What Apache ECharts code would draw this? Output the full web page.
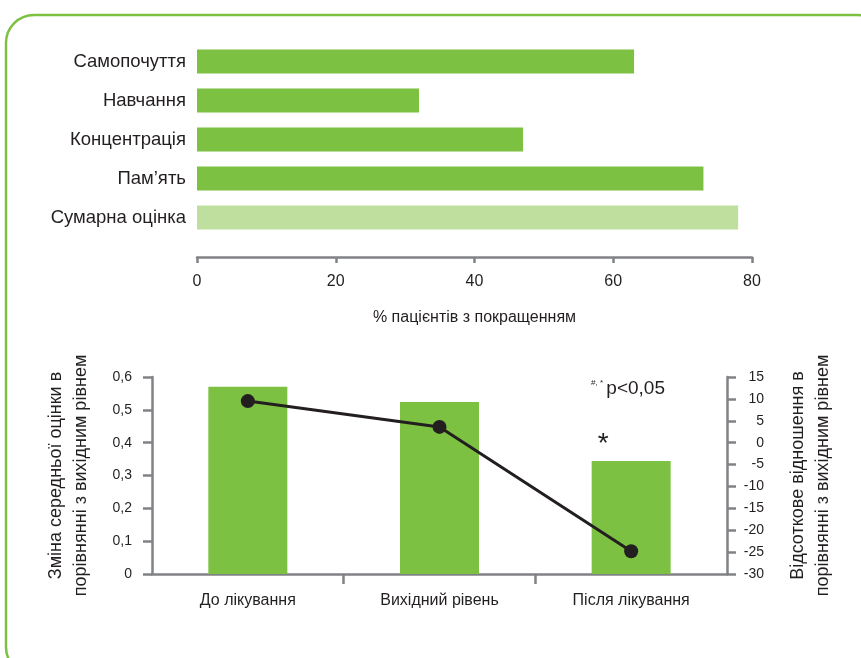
<!DOCTYPE html>
<html><head><meta charset="utf-8">
<script src="https://cdn.jsdelivr.net/npm/echarts@6/dist/echarts.min.js"></script>
<style>html,body{margin:0;padding:0;background:#fff}#c{width:861px;height:658px}</style>
</head><body><div id="c"></div>
<script>
const topCategories = ['Самопочуття', 'Навчання', 'Концентрація', 'Пам’ять', 'Сумарна оцінка'];
const topValues = [63, 32, 47, 73, 78];
const topTicks = [0, 20, 40, 60, 80];
const bottomCategories = ['До лікування', 'Вихідний рівень', 'Після лікування'];
const barValues = [0.57, 0.524, 0.344];
const lineValues = [9.5, 3.6, -24.8];

const GREEN = '#7dc142', LIGHT = '#bedf9d', TXT = '#231f20', AX = '#808285';
const FONT = 'Liberation Sans';

const chart = echarts.init(document.getElementById('c'), null, {renderer: 'canvas'});
chart.setOption({
  animation: false,
  textStyle: {fontFamily: FONT, color: TXT},
  grid: [
    {left: 197, right: 109, top: 42, height: 195},
    {left: 152, right: 134, top: 377, bottom: 84}
  ],
  xAxis: [
    {gridIndex: 0, type: 'value', min: topTicks[0], max: topTicks[topTicks.length - 1], interval: topTicks[1] - topTicks[0], offset: 20,
     axisLine: {show: true, lineStyle: {color: AX, width: 2.5}},
     axisTick: {show: true, length: 6, lineStyle: {color: AX, width: 2.5}},
     axisLabel: {color: TXT, fontSize: 16, margin: 17, fontFamily: FONT},
     splitLine: {show: false},
     name: '% пацієнтів з покращенням', nameLocation: 'middle', nameGap: 53,
     nameTextStyle: {color: TXT, fontSize: 16, fontFamily: FONT}},
    {gridIndex: 1, type: 'category', data: bottomCategories, position: 'bottom',
     axisLine: {show: true, onZero: false, lineStyle: {color: AX, width: 2.5}},
     axisTick: {show: false},
     axisLabel: {color: TXT, fontSize: 16, margin: 19, fontFamily: FONT}},
    {gridIndex: 1, type: 'value', position: 'bottom', min: 0, max: bottomCategories.length, interval: 1,
     axisLine: {show: false, onZero: false},
     axisTick: {show: true, length: 10, customValues: [1, 2], lineStyle: {color: AX, width: 2.5}},
     axisLabel: {show: false}, splitLine: {show: false}}
  ],
  yAxis: [
    {gridIndex: 0, type: 'category', data: topCategories, inverse: true,
     axisLine: {show: false}, axisTick: {show: false},
     axisLabel: {color: TXT, fontSize: 18.5, margin: 11, fontFamily: FONT}},
    {gridIndex: 1, type: 'value', min: 0, max: 0.6, interval: 0.1,
     axisLine: {show: true, lineStyle: {color: AX, width: 2.5}},
     axisTick: {show: true, length: 9, lineStyle: {color: AX, width: 2.5}},
     splitLine: {show: false},
     axisLabel: {color: TXT, fontSize: 14, margin: 20, fontFamily: FONT,
       formatter: v => v === 0 ? '0' : v.toFixed(1).replace('.', ',')},
     name: 'Зміна середньої оцінки в\nпорівнянні з вихідним рівнем',
     nameLocation: 'middle', nameRotate: 90, nameGap: 58,
     nameTextStyle: {color: TXT, fontSize: 18, lineHeight: 25, fontFamily: FONT}},
    {gridIndex: 1, type: 'value', position: 'right', min: -30, max: 15, interval: 5,
     axisLine: {show: true, lineStyle: {color: AX, width: 2.5}},
     axisTick: {show: true, length: 9, lineStyle: {color: AX, width: 2.5}},
     splitLine: {show: false},
     axisLabel: {color: TXT, fontSize: 14, margin: 37, align: 'right', fontFamily: FONT},
     name: 'Відсоткове відношення в\nпорівнянні з вихідним рівнем',
     nameLocation: 'middle', nameRotate: 90, nameGap: 59,
     nameTextStyle: {color: TXT, fontSize: 18, lineHeight: 25, fontFamily: FONT}}
  ],
  series: [
    {type: 'bar', xAxisIndex: 0, yAxisIndex: 0, barWidth: 24,
     data: topValues.map((v, i) => ({value: v, itemStyle: {color: i === topValues.length - 1 ? LIGHT : GREEN}}))},
    {type: 'bar', xAxisIndex: 1, yAxisIndex: 1, barWidth: 79,
     itemStyle: {color: GREEN},
     data: barValues.map((v, i) => i === 2 ? {value: v, label: {show: true, position: 'top', formatter: '*', fontSize: 28, color: TXT, distance: 0, offset: [-28, -3], fontFamily: FONT}} : v)},
    {type: 'line', xAxisIndex: 1, yAxisIndex: 2, data: lineValues,
     symbol: 'circle', symbolSize: 14,
     lineStyle: {color: TXT, width: 3}, itemStyle: {color: TXT}, z: 5}
  ],
  graphic: [
    {type: 'rect', shape: {x: 6, y: 15, width: 880, height: 660, r: 28},
     style: {fill: 'none', stroke: GREEN, lineWidth: 2.5}, silent: true},
    {type: 'text', left: 591, top: 379,
     style: {text: '{s|#, *} {p|p<0,05}', rich: {s: {fontSize: 8, verticalAlign: 'top', fontFamily: FONT, fill: TXT}, p: {fontSize: 19, fontFamily: FONT, fill: TXT}}}}
  ]
});
</script></body></html>
